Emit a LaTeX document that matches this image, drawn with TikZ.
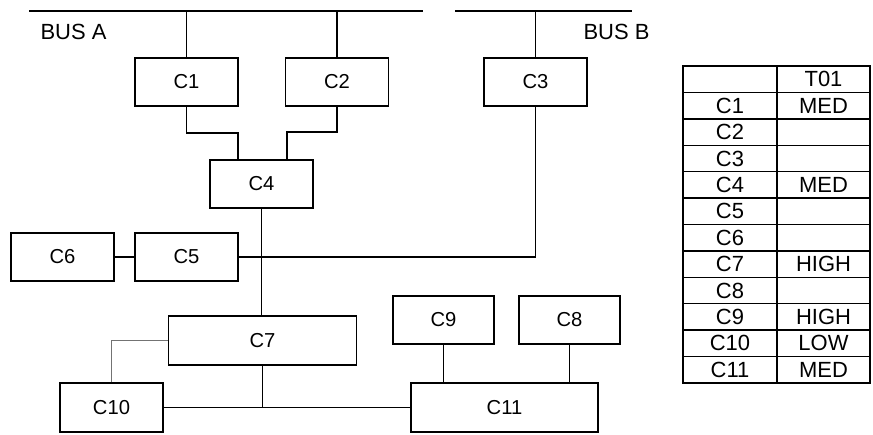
\documentclass[tikz,border=0pt]{standalone}
\usepackage{fontspec}
\setmainfont{Liberation Sans}

\tikzset{
  unit/.style={draw, line width=0.8pt, inner sep=0pt,
    minimum width=2.06cm, minimum height=0.96cm,
    font=\fontsize{11.5}{13}\selectfont},
  wide/.style={unit, minimum width=3.76cm, minimum height=0.98cm},
  link/.style={line width=0.8pt},
  cell/.style={font=\fontsize{12.5}{13}\selectfont, inner sep=0pt}
}

\begin{document}
\begin{tikzpicture}[x=0.02cm, y=-0.02cm]
  \useasboundingbox (0,0) rectangle (873,435);

  % --- 1. バス A, B ---
  \coordinate (busA-w) at (29,11);
  \coordinate (busA-e) at (423,11);
  \coordinate (busB-w) at (455,11);
  \coordinate (busB-e) at (632,11);
  \draw[link] (busA-w) -- (busA-e);
  \draw[link] (busB-w) -- (busB-e);
  \node[font=\fontsize{12.5}{14}\selectfont] (labA) at (73.5,32) {BUS A};
  \node[font=\fontsize{12.5}{14}\selectfont] (labB) at (616.5,32) {BUS B};

  % --- 2. 各ユニット ---
  \node[unit] (C1) at (186.5,82) {C1};
  \node[unit] (C2) at (337,82) {C2};
  \node[unit] (C3) at (535.5,82) {C3};
  \node[unit] (C4) at (261.5,184) {C4};
  \node[unit] (C6) at (62.5,257) {C6};
  \node[unit] (C5) at (186.5,257) {C5};
  \node[wide] (C7) at (262.5,340.5) {C7};
  \node[unit, minimum width=2.02cm] (C9) at (443.5,320) {C9};
  \node[unit, minimum width=2.02cm] (C8) at (569.5,320) {C8};
  \node[unit, minimum height=0.98cm] (C10) at (111.5,407.5) {C10};
  \node[wide, minimum width=3.74cm] (C11) at (504.5,407.5) {C11};

  % --- 3. バスへの接続 ---
  \draw[link] (C1.north) -- (C1.north |- busA-w);
  \draw[link] (C2.north) -- (C2.north |- busA-w);
  \draw[link] (C3.north) -- (C3.north |- busB-w);

  % --- 4. C1, C2 -> C4 ---
  \coordinate (c1j) at (238,133);
  \coordinate (c2j) at (287,132);
  \draw[link] (C1.south) |- (c1j) -- (c1j |- C4.north);
  \draw[link] (C2.south) |- (c2j) -- (c2j |- C4.north);

  % --- 5. 中央の配線 ---
  \draw[link] (C4.south) -- (C4.south |- C7.north);
  \draw[link] (C6.east) -- (C5.west);
  \draw[link] (C5.east) -- (C5.east -| C3.south) -- (C3.south);
  \draw[link, black!55] (C10.north) |- (C7.west);
  \draw[link] (C10.east) -- (C11.west);
  \draw[link] (C7.south) -- (C7.south |- C10.east);
  \draw[link] (C9.south) -- (C9.south |- C11.north);
  \draw[link] (C8.south) -- (C8.south |- C11.north);

  % --- 6. 表 ---
  \draw[link] (683,66) rectangle (870,383);
  \draw[link] (777,66) -- (777,383);
  \foreach \k in {1,...,11}
    \draw[link] (683,{66+26.42*\k}) -- (870,{66+26.42*\k});
  \node[cell] (hd) at (823.5,79.2) {T01};
  \foreach \k/\nm/\lv in {1/C1/MED, 2/C2/, 3/C3/, 4/C4/MED, 5/C5/, 6/C6/,
                          7/C7/HIGH, 8/C8/, 9/C9/HIGH, 10/C10/LOW, 11/C11/MED} {
    \node[cell] (n\k) at (730,{79.2+26.42*\k}) {\nm};
    \node[cell] (v\k) at (823.5,{79.2+26.42*\k}) {\lv};
  }

\end{tikzpicture}
\end{document}
